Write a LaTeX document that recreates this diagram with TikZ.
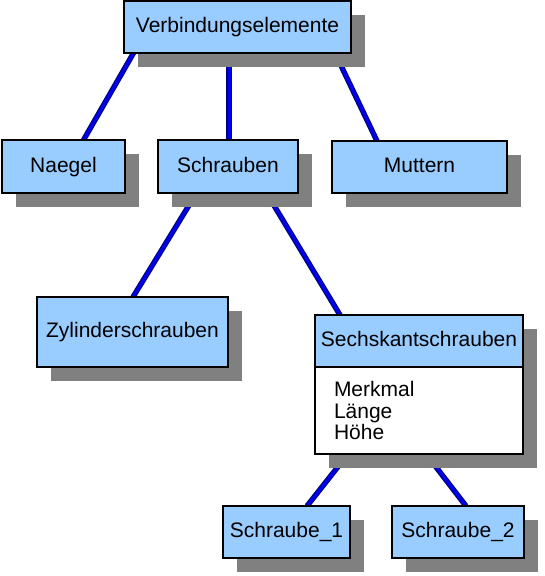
\documentclass[tikz,border=0pt]{standalone}
\usepackage{fontspec}
\setmainfont{Liberation Sans}
\usetikzlibrary{positioning,shadows,backgrounds}
\definecolor{classblue}{RGB}{153,204,255}
\definecolor{shadowgray}{RGB}{128,128,128}
\definecolor{linkdark}{RGB}{0,0,130}
\definecolor{linkblue}{RGB}{0,0,235}
\tikzset{
  boxbase/.style={
    draw=black,line width=1.6pt,inner sep=0pt,outer sep=0pt,
    font=\fontsize{21}{21.7}\selectfont,
    drop shadow={shadow xshift=14pt,shadow yshift=-14pt,fill=shadowgray,opacity=1}
  },
  classbox/.style={boxbase,fill=classblue,minimum height=52pt,text height=15pt,text depth=4pt},
  attrbox/.style={boxbase,fill=white,minimum height=87pt,text width=170pt,inner xsep=19pt,align=left},
  treeline/.style={draw=linkdark,double=linkblue,double distance=3pt,line width=1.2pt}
}
\begin{document}
\begin{tikzpicture}[x=1pt,y=-1pt]
  \useasboundingbox (0,0) rectangle (544,576);
  \node[classbox,minimum width=227pt] (verbindung) at (237.5,27) {Verbindungselemente};
  \node[classbox,minimum width=123pt,minimum height=53pt] (naegel) at (63.5,166.5) {Naegel};
  \node[classbox,minimum width=140pt,minimum height=53pt] (schrauben) at (228,166.5) {Schrauben};
  \node[classbox,minimum width=175pt] (muttern) at (419.5,167) {Muttern};
  \node[classbox,minimum width=191pt,minimum height=70pt] (zylinder) at (132.5,332) {Zylinderschrauben};
  \node[classbox,minimum width=208pt] (sechskant) at (419,341) {Sechskantschrauben};
  \node[attrbox,below=0pt of sechskant] (sechsattr) {Merkmal\\Länge\\Höhe};
  \node[classbox,minimum width=127pt] (schraubeA) at (286.5,532) {Schraube\_1};
  \node[classbox,minimum width=132pt] (schraubeB) at (458,532) {Schraube\_2};
  \begin{scope}[on background layer]
    \draw[treeline] ([xshift=-104pt]verbindung.south) -- ([xshift=20pt]naegel.north);
    \draw[treeline] ([xshift=-8.5pt]verbindung.south) -- ([xshift=1pt]schrauben.north);
    \draw[treeline] ([xshift=97.5pt]verbindung.south) -- ([xshift=-42.5pt]muttern.north);
    \draw[treeline] ([xshift=-31.5pt]schrauben.south) -- ([xshift=0.5pt]zylinder.north);
    \draw[treeline] ([xshift=38.5pt]schrauben.south) -- ([xshift=-79pt]sechskant.north);
    \draw[treeline] ([xshift=-71pt]sechsattr.south) -- ([xshift=20.5pt]schraubeA.north);
    \draw[treeline] ([xshift=7pt]sechsattr.south) -- ([xshift=8pt]schraubeB.north);
  \end{scope}
\end{tikzpicture}
\end{document}
